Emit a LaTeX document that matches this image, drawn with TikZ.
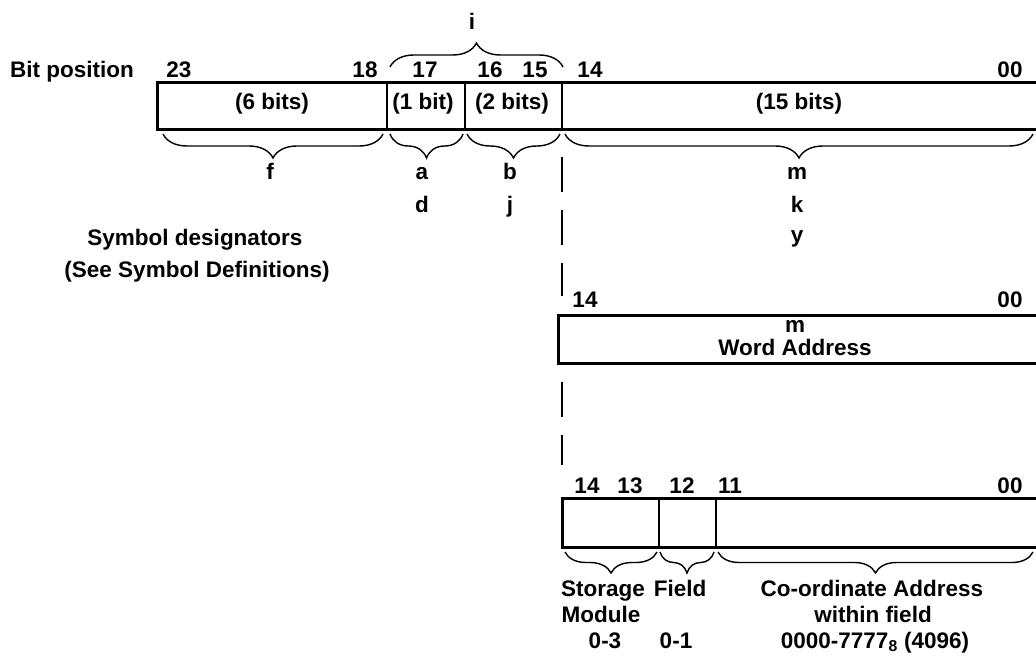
\documentclass[tikz,border=0pt]{standalone}
\usepackage{fontspec}
\setmainfont{Liberation Sans}
\usetikzlibrary{decorations.pathreplacing}

\begin{document}
\begin{tikzpicture}[x=1pt,y=-1pt]
  \tikzset{lbl/.style = {font=\fontsize{22.5}{26}\selectfont\bfseries,inner sep=0pt,anchor=base}}
  \tikzset{reg/.style = {line width=3pt}}
  \tikzset{sep/.style = {line width=1.8pt}}
  \tikzset{brc/.style = {decorate,decoration={brace,amplitude=#1,aspect=0.5},line width=1.4pt},brc/.default=24pt}
  \tikzset{cut/.style = {line width=1.8pt,dash pattern=on 35pt off 18pt}}
  \useasboundingbox (0,0) rectangle (1036,660);

  % instruction word
  \draw[reg] (1036,83) -- (157,83) -- (157,130) -- (1036,130);
  \foreach \x in {387,465,562}
    \draw[sep] (\x,83) -- (\x,130);

  \node[lbl] (bitpos) at (72,78) {Bit position};
  \foreach \x/\n in {179/23,365/18,425/17,490/16,535/15,590/14,1010/00}
    \node[lbl] (t\n) at (\x,78) {\n};
  \node[lbl] (w6)  at (272,110) {(6 bits)};
  \node[lbl] (w1)  at (423,110) {(1 bit)};
  \node[lbl] (w2)  at (512,110) {(2 bits)};
  \node[lbl] (w15) at (799,110) {(15 bits)};

  % braces
  \coordinate (i-l) at (390,67);
  \coordinate (i-r) at (563,67);
  \draw[brc] (i-l) -- (i-r);
  \node[lbl] (i) at (472,30) {i};

  \foreach \n/\xa/\xb in {f/383/163, a/463/390, b/560/467, m/1033/565}
    {
    \coordinate (\n-r) at (\xa,134);
    \coordinate (\n-l) at (\xb,134);
    \draw[brc] (\n-r) -- (\n-l);
    }

  \foreach \x/\s/\y in {270/f/180, 422/a/180, 510/b/180, 797/m/180, 422/d/213, 510/j/213, 797/k/213, 797/y/243}
    \node[lbl] (s\s) at (\x,\y) {\s};

  \node[lbl] (desig) at (195,246) {Symbol designators};
  \node[lbl] (desdef) at (197,278) {(See Symbol Definitions)};

  % cut line
  \coordinate (c1) at (562,157);
  \coordinate (c2) at (562,296);
  \coordinate (c3) at (562,382);
  \coordinate (c4) at (562,465);
  \draw[cut] (c1) -- (c2);
  \draw[cut] (c3) -- (c4);

  % word address
  \draw[reg] (1036,316) -- (558,316) -- (558,363) -- (1036,363);
  \node[lbl] (m14) at (585,308) {14};
  \node[lbl] (m00) at (1010,308) {00};
  \node[lbl] (mm)  at (795,333) {m};
  \node[lbl] (word) at (795,355) {Word Address};

  % storage module / field / address
  \draw[reg] (1036,498) -- (562,498) -- (562,547) -- (1036,547);
  \foreach \x in {659,716}
    \draw[sep] (\x,498) -- (\x,547);
  \foreach \x/\n in {587/14,630/13,682/12,730/11,1010/00}
    \node[lbl] (c\n) at (\x,493) {\n};

  \coordinate (sm-r) at (657,552);
  \coordinate (sm-l) at (565,552);
  \coordinate (fd-r) at (714,552);
  \coordinate (fd-l) at (660,552);
  \coordinate (ca-r) at (1033,552);
  \coordinate (ca-l) at (718,552);
  \foreach \from/\to in {sm-r/sm-l, fd-r/fd-l, ca-r/ca-l}
    \draw[brc=21pt] (\from) -- (\to);

  \node[lbl] (stor) at (603,596) {Storage};
  \node[lbl] (modu) at (601,622) {Module};
  \node[lbl] (r03)  at (605,648) {0-3};
  \node[lbl] (fld)  at (680,596) {Field};
  \node[lbl] (r01)  at (676,648) {0-1};
  \node[lbl] (coad) at (872,596) {Co-ordinate Address};
  \node[lbl] (wfld) at (873,622) {within field};
  \node[lbl] (r07)  at (875,648) {0000-7777\textsubscript{8} (4096)};
\end{tikzpicture}
\end{document}
